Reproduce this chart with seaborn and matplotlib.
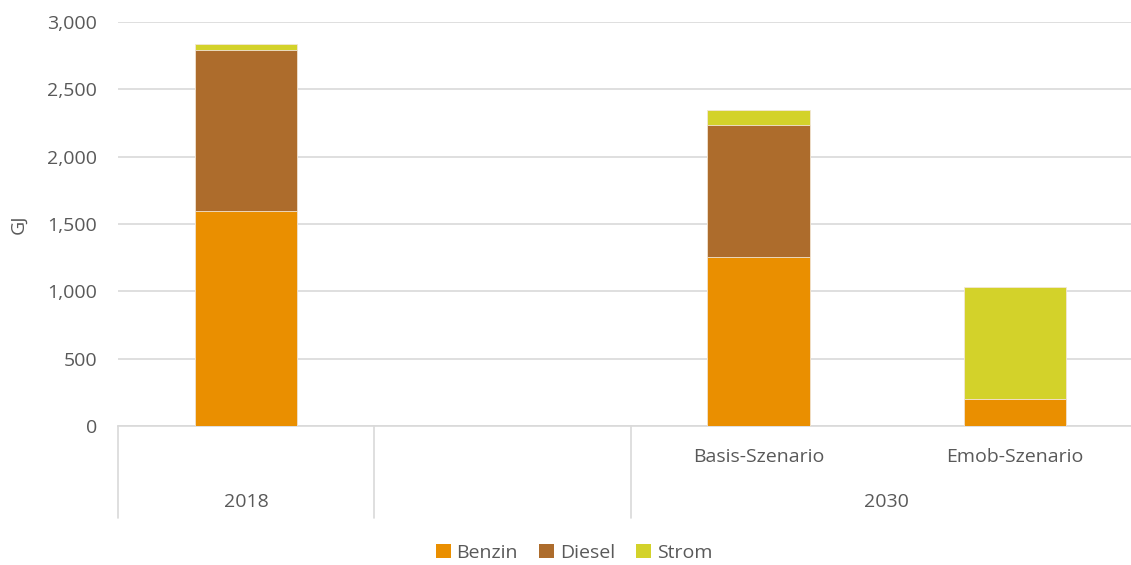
import matplotlib
matplotlib.use("Agg")
import matplotlib.pyplot as plt
import matplotlib.transforms as mtransforms
from matplotlib.patches import Patch
from matplotlib.ticker import FuncFormatter
import numpy as np
import pandas as pd
import seaborn as sns

# Energy demand per fuel (GJ)
slots = ["2018", "_leer", "Basis-Szenario", "Emob-Szenario"]
bar_slots = ["2018", "Basis-Szenario", "Emob-Szenario"]
benzin = [1600, 1255, 200]
diesel = [1195, 978, 0]
strom = [43, 111, 835]
series = ["Benzin", "Diesel", "Strom"]
colors = ["#EA8F00", "#AD6C2C", "#D3D22A"]
slot_labels = ["", "", "Basis-Szenario", "Emob-Szenario"]
groups = [("2018", 0, 0), ("2030", 2, 3)]
yticks = [0, 500, 1000, 1500, 2000, 2500, 3000]

sns.set_theme(style="white")
plt.rcParams["font.family"] = ["Open Sans", "DejaVu Sans"]
text_color = "#595959"
grid_color = "#D9D9D9"
fs = 14

df = pd.DataFrame({"slot": bar_slots, "Benzin": benzin, "Diesel": diesel, "Strom": strom})
df["c_benzin"] = df["Benzin"]
df["c_diesel"] = df["Benzin"] + df["Diesel"]
df["c_strom"] = df["c_diesel"] + df["Strom"]

fig = plt.figure(figsize=(11.31, 5.65), dpi=100)
ax = fig.add_axes([118 / 1131, 1 - 426 / 565, 1025 / 1131, 404 / 565])

# Stacked bars: draw cumulative totals from the top layer down
for col, color in zip(["c_strom", "c_diesel", "c_benzin"], colors[::-1]):
    sns.barplot(data=df, x="slot", y=col, order=slots, color=color, width=0.4,
                saturation=1, edgecolor="#F2E6D6", linewidth=0.6, ax=ax, zorder=3)

ax.set_ylim(0, 3000)
ax.set_xlim(-0.5, len(slots) - 0.5)
ax.set_yticks(yticks)
ax.yaxis.set_major_formatter(FuncFormatter(lambda v, p: f"{int(v):,}"))
ax.grid(axis="y", color=grid_color, linewidth=1.2, zorder=0)
ax.set_axisbelow(True)
for s in ["top", "right", "left"]:
    ax.spines[s].set_visible(False)
ax.spines["bottom"].set_color(grid_color)
ax.spines["bottom"].set_linewidth(1.2)
ax.tick_params(axis="y", length=0, pad=15, labelsize=fs, labelcolor=text_color)
ax.tick_params(axis="x", length=0, pad=16, labelsize=fs, labelcolor=text_color)
ax.set_xticks(range(len(slots)))
ax.set_xticklabels(slot_labels)
ax.set_xlabel("")
ax.set_ylabel("GJ", fontsize=fs, color=text_color, labelpad=14)

# Category group separators and group labels below the axis
trans = mtransforms.blended_transform_factory(ax.transData, ax.transAxes)
depth = -(518 - 426) / 404
for xb in [-0.5, 0.5, 1.5]:
    ax.plot([xb, xb], [0, depth], transform=trans, color=grid_color,
            linewidth=1.2, clip_on=False)
for name, i0, i1 in groups:
    ax.text((i0 + i1) / 2, -(502 - 426) / 404, name, transform=trans,
            ha="center", va="center", fontsize=fs, color=text_color)

handles = [Patch(facecolor=c, edgecolor="none", label=n) for n, c in zip(series, colors)]
fig.legend(handles=handles, loc="center", bbox_to_anchor=(574 / 1131, 1 - 553 / 565),
           ncol=3, frameon=False, fontsize=fs, labelcolor=text_color,
           handlelength=0.75, handleheight=0.75, handletextpad=0.3, columnspacing=1.1)

fig.savefig("out.png", dpi=100)
